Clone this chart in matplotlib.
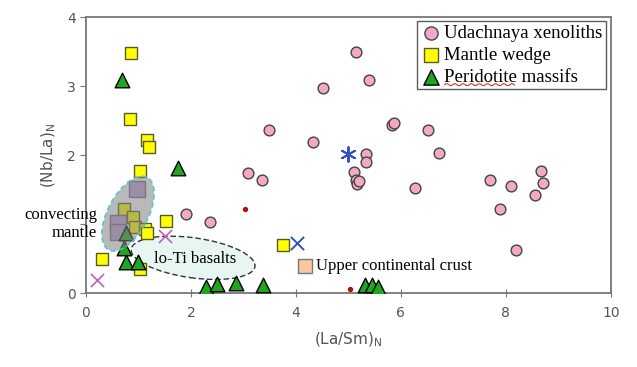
import numpy as np
import matplotlib
matplotlib.use("Agg")
import matplotlib.pyplot as plt
from matplotlib.patches import Ellipse
from matplotlib.transforms import ScaledTranslation

# Udachnaya xenoliths
uda_x = [5.14, 5.39, 4.51, 3.49, 4.32, 3.09, 3.35, 1.90, 2.37, 5.33, 5.33, 5.10,
         5.14, 5.17, 5.20, 6.72, 6.27, 5.83, 5.87, 6.51, 7.70, 8.10, 8.67, 8.70,
         8.55, 7.89, 8.19]
uda_y = [3.49, 3.09, 2.97, 2.36, 2.19, 1.74, 1.64, 1.14, 1.03, 2.01, 1.90, 1.75,
         1.64, 1.58, 1.62, 2.03, 1.52, 2.43, 2.47, 2.36, 1.64, 1.55, 1.77, 1.59,
         1.42, 1.22, 0.62]

# Mantle wedge
mw_x = [0.86, 0.84, 1.16, 1.20, 1.03, 0.72, 0.90, 0.93, 1.12, 1.16, 1.52, 0.30, 1.03, 3.75]
mw_y = [3.48, 2.52, 2.22, 2.12, 1.77, 1.22, 1.10, 0.96, 0.93, 0.87, 1.04, 0.49, 0.35, 0.70]

# Peridotite massifs
pm_x = [0.69, 1.75, 0.76, 0.72, 0.76, 1.00, 2.29, 2.50, 2.86, 3.37, 5.31, 5.45, 5.56]
pm_y = [3.09, 1.81, 0.87, 0.65, 0.45, 0.45, 0.09, 0.13, 0.14, 0.11, 0.11, 0.11, 0.09]

# convecting mantle samples
cm_x = [0.97, 0.61, 0.61]
cm_y = [1.51, 1.01, 0.88]

# other reference points
xm_x = [0.21, 1.50]
xm_y = [0.19, 0.83]
ast_x, ast_y = [4.99], [2.01]
bx_x, bx_y = [4.02], [0.72]
dot_x = [3.03, 5.03]
dot_y = [1.22, 0.06]
ucc_x, ucc_y = 4.17, 0.39

yticks = [0, 1, 2, 3, 4]
ytick_labels = ["0", "", "2", "3", "4"]  # "1" is hidden behind the "convecting mantle" label

fig = plt.figure(figsize=(6.37, 3.67), dpi=100)
ax = fig.add_axes([0.135, 0.2016, 0.824, 0.752])
ax.set_xlim(0, 10)
ax.set_ylim(0, 4)

serif = "Liberation Serif"
grey = "#777777"

# shaded fields
def pix_off(x, y):
    return fig.dpi_scale_trans + ScaledTranslation(x, y, ax.transData)

ax.add_patch(Ellipse((0, 0), 1.25, 0.40, angle=-8, transform=pix_off(2.04, 0.51),
                     facecolor="#e8f6f3", edgecolor="#333333", lw=1.0, ls=(0, (4, 2)), zorder=1))

ax.scatter(mw_x, mw_y, marker="s", s=80, c="#ffff00", edgecolors="#5a5a2a", lw=1, zorder=3)
ax.scatter(cm_x, cm_y, marker="s", s=140, c="#b9a3d6", edgecolors="#7a6a8a", lw=1, zorder=3)
ax.scatter(uda_x, uda_y, marker="o", s=60, c="#f4a8c8", edgecolors="#444444", lw=1, zorder=3)
ax.scatter(pm_x, pm_y, marker="^", s=110, c="#1fa51f", edgecolors="#000000", lw=1, zorder=3)
ax.scatter(xm_x, xm_y, marker="x", s=90, c="#c060c0", lw=1.2, zorder=3)
ax.scatter(ast_x, ast_y, marker=(6, 2, 0), s=110, c="#3050c0", lw=1.4, zorder=3)
ax.scatter(bx_x, bx_y, marker="x", s=90, c="#3050c0", lw=1.4, zorder=3)
ax.scatter(dot_x, dot_y, marker="o", s=8, c="#b01010", zorder=3)
ax.scatter([ucc_x], [ucc_y], marker="s", s=110, c="#f8c9a0", edgecolors="#777777", lw=1, zorder=3)

ax.add_patch(Ellipse((0, 0), 0.82, 0.40, angle=62, transform=pix_off(0.80, 1.15),
                     facecolor="#808080", alpha=0.55, edgecolor="none", zorder=4))
ax.add_patch(Ellipse((0, 0), 0.82, 0.40, angle=62, transform=pix_off(0.80, 1.15),
                     facecolor="none", edgecolor="#55c8c0", lw=1.2, ls=(0, (3, 2)), zorder=4))

ax.text(2.07, 0.50, "lo-Ti basalts", family=serif, fontsize=12, ha="center", va="center", zorder=5)
ax.text(0.21, 1.0, "convecting\nmantle", family=serif, fontsize=12, ha="right", va="center",
        multialignment="right", linespacing=1.1, clip_on=False, zorder=5)
ax.text(ucc_x + 0.22, ucc_y, "Upper continental crust", family=serif, fontsize=12,
        ha="left", va="center", zorder=5)

ax.set_xticks([0, 2, 4, 6, 8, 10])
ax.set_yticks(yticks)
ax.set_yticklabels(ytick_labels)
ax.tick_params(axis="x", direction="inout", length=6, colors=grey, labelsize=10, pad=6)
ax.tick_params(axis="y", direction="out", length=4, colors=grey, labelsize=10)
for tl in ax.get_xticklabels() + ax.get_yticklabels():
    tl.set_color("#555555")
for sp in ax.spines.values():
    sp.set_color(grey)
    sp.set_linewidth(1.3)

ax.set_xlabel("(La/Sm)$_\\mathregular{N}$", fontsize=11, color="#555555", labelpad=8)
ax.set_ylabel("(Nb/La)$_\\mathregular{N}$", fontsize=11, color="#555555", labelpad=6)

h1 = ax.scatter([], [], marker="o", s=90, c="#f4a8c8", edgecolors="#444444", lw=1)
h2 = ax.scatter([], [], marker="s", s=90, c="#ffff00", edgecolors="#5a5a2a", lw=1)
h3 = ax.scatter([], [], marker="^", s=120, c="#1fa51f", edgecolors="#000000", lw=1)
leg = ax.legend([h1, h2, h3], ["Udachnaya xenoliths", "Mantle wedge", "Peridotite massifs"],
                loc="upper right", bbox_to_anchor=(0.99, 0.985), prop={"family": serif, "size": 13.5},
                frameon=True, fancybox=False, edgecolor="#333333", handletextpad=0.2,
                borderpad=0.2, labelspacing=0.25, handlelength=1.0, borderaxespad=0)
leg.get_frame().set_linewidth(1.0)

# spell-check underline under "Peridotite"
fig.canvas.draw()
r = fig.canvas.get_renderer()
t = leg.get_texts()[2]
bb = t.get_window_extent(r)
wx = np.linspace(bb.x0 + 1, bb.x0 + bb.width * 0.53, 60)
wy = bb.y0 + 1 + 1.0 * np.sin((wx - wx[0]) / 1.3)
fig.add_artist(plt.Line2D(wx, wy, transform=None, color="#e03030", lw=0.8))

fig.savefig("out.png", dpi=100)
